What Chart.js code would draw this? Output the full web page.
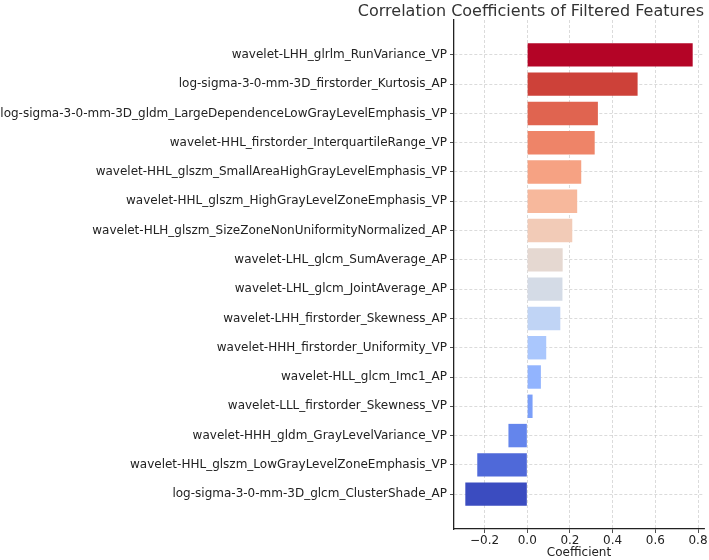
<!DOCTYPE html>
<html>
<head>
<meta charset="utf-8">
<script src="https://cdn.jsdelivr.net/npm/chart.js@4/dist/chart.umd.min.js"></script>
<style>
  html, body { margin: 0; padding: 0; background: #fff; }
  #wrap { width: 709px; height: 560px; }
</style>
</head>
<body>
<div id="wrap"><canvas id="chart" width="709" height="560"></canvas></div>
<script>
// feature names, top to bottom
const features = [
    'wavelet-LHH_glrlm_RunVariance_VP',
    'log-sigma-3-0-mm-3D_firstorder_Kurtosis_AP',
    'log-sigma-3-0-mm-3D_gldm_LargeDependenceLowGrayLevelEmphasis_VP',
    'wavelet-HHL_firstorder_InterquartileRange_VP',
    'wavelet-HHL_glszm_SmallAreaHighGrayLevelEmphasis_VP',
    'wavelet-HHL_glszm_HighGrayLevelZoneEmphasis_VP',
    'wavelet-HLH_glszm_SizeZoneNonUniformityNormalized_AP',
    'wavelet-LHL_glcm_SumAverage_AP',
    'wavelet-LHL_glcm_JointAverage_AP',
    'wavelet-LHH_firstorder_Skewness_AP',
    'wavelet-HHH_firstorder_Uniformity_VP',
    'wavelet-HLL_glcm_Imc1_AP',
    'wavelet-LLL_firstorder_Skewness_VP',
    'wavelet-HHH_gldm_GrayLevelVariance_VP',
    'wavelet-HHL_glszm_LowGrayLevelZoneEmphasis_VP',
    'log-sigma-3-0-mm-3D_glcm_ClusterShade_AP'
];
const coefficients = [0.775, 0.517, 0.331, 0.316, 0.253, 0.234, 0.211, 0.166,
    0.165, 0.155, 0.089, 0.064, 0.025, -0.088, -0.234, -0.290];
// coolwarm, sampled evenly, red at the top
const barColors = ['#b40426', '#cd4139', '#e06450', '#ee8468', '#f6a283', '#f7b89c',
    '#f2cbb7', '#e5d8d1', '#d4dbe6', '#c0d4f5', '#aac7fd', '#92b4fe', '#7b9ff9',
    '#6485ec', '#4f69d9', '#3b4cc0'];
const xTicks = [-0.2, 0, 0.2, 0.4, 0.6, 0.8];

const ctx = document.getElementById('chart').getContext('2d');

// title drawn by hand so it can sit where the reference has it
const titlePlugin = {
    id: 'axTitle',
    afterDraw(chart) {
        const c = chart.ctx, a = chart.chartArea;
        c.save();
        c.font = '16px "DejaVu Sans"';
        c.fillStyle = '#333';
        c.textAlign = 'right';
        c.textBaseline = 'alphabetic';
        c.fillText('Correlation Coefficients of Filtered Features', a.right, 16);
        c.restore();
    }
};

const gridOpts = { color: 'rgba(190,190,190,0.7)', tickColor: '#222', tickLength: 4, lineWidth: 0.8, offset: false };
const borderOpts = { color: '#222', width: 1.3, dash: [3, 2] };
const font = { family: 'DejaVu Sans', size: 12 };

new Chart(ctx, {
    type: 'bar',
    data: {
        datasets: [{
            data: coefficients.map((v, i) => ({ x: v, y: i })),
            backgroundColor: barColors,
            borderWidth: 0,
            categoryPercentage: 0.8,
            barPercentage: 1.0
        }]
    },
    options: {
        indexAxis: 'y',
        responsive: false,
        animation: false,
        layout: { padding: { top: 20, right: 5, left: 0, bottom: 0 } },
        plugins: {
            legend: { display: false },
            tooltip: { enabled: false }
        },
        scales: {
            x: {
                type: 'linear',
                min: -0.343,
                max: 0.828,
                offset: false,
                z: 1,
                afterBuildTicks: (scale) => { scale.ticks = xTicks.map(v => ({ value: v })); },
                afterFit: (scale) => { scale.height = 31; },
                ticks: {
                    color: '#222',
                    font: font,
                    padding: 1,
                    maxRotation: 0,
                    callback: (v) => (v < 0 ? '\u2212' : '') + Math.abs(v).toFixed(1)
                },
                grid: gridOpts,
                border: borderOpts,
                title: {
                    display: true,
                    text: 'Coefficient',
                    color: '#222',
                    font: font,
                    padding: { top: 0, bottom: 0 }
                }
            },
            y: {
                type: 'linear',
                min: -1.19,
                max: 16.19,
                reverse: true,
                offset: false,
                z: 1,
                afterBuildTicks: (scale) => { scale.ticks = features.map((_, i) => ({ value: i })); },
                afterFit: (scale) => { scale.width = 454; },
                ticks: {
                    color: '#222',
                    font: font,
                    padding: 3,
                    autoSkip: false,
                    callback: (v) => features[v]
                },
                grid: gridOpts,
                border: borderOpts
            }
        }
    },
    plugins: [titlePlugin]
});
</script>
</body>
</html>
